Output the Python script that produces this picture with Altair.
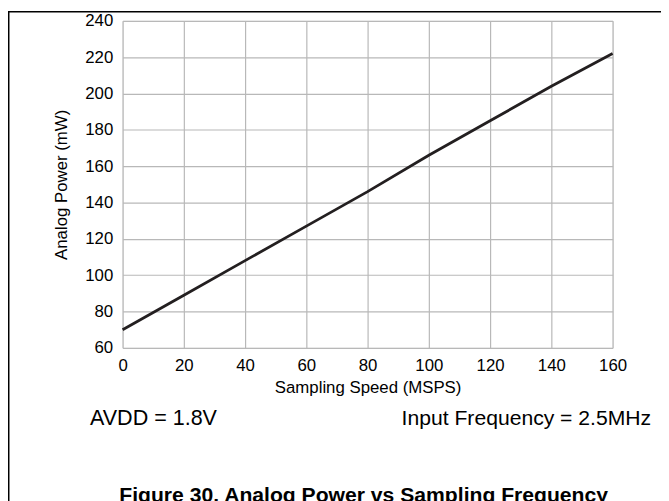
import altair as alt
import pandas as pd

speed = [0, 20, 40, 60, 80, 100, 120, 140, 160]
power = [70, 89, 108, 127, 146, 166, 185, 204, 222]
x_ticks = [0, 20, 40, 60, 80, 100, 120, 140, 160]
y_ticks = [60, 80, 100, 120, 140, 160, 180, 200, 220, 240]

df = pd.DataFrame({"speed": speed, "power": power})

FONT = "Liberation Sans"
LEFT = 124
RIGHT = 620
TOP = 18
BOTTOM = 349
PLOT_W = RIGHT - LEFT
PLOT_H = BOTTOM - TOP
PAD_L = LEFT - 8
PAD_T = TOP - 8

x_enc = alt.X("speed:Q", scale=alt.Scale(domain=[0, 160], nice=False, zero=False),
              axis=alt.Axis(values=x_ticks, title="Sampling Speed (MSPS)", grid=True,
                            tickSize=0, labelPadding=10, titlePadding=6, labelFlush=False,
                            labelFontSize=17, titleFontSize=17, labelFont=FONT,
                            titleFont=FONT, titleFontWeight="normal", labelColor="#000",
                            titleColor="#000", domain=False, gridColor="#b8b8b8",
                            gridWidth=1.2))
y_enc = alt.Y("power:Q", scale=alt.Scale(domain=[60, 240], nice=False, zero=False),
              axis=alt.Axis(values=y_ticks, title="Analog Power (mW)", grid=True,
                            tickSize=0, labelPadding=10, titlePadding=14, labelFlush=False,
                            labelFontSize=17, titleFontSize=17, labelFont=FONT,
                            titleFont=FONT, titleFontWeight="normal", labelColor="#000",
                            titleColor="#000", domain=False, gridColor="#b8b8b8",
                            gridWidth=1.2))

line = alt.Chart(df).mark_line(color="#231f20", strokeWidth=2.8).encode(x=x_enc, y=y_enc)

note_left = alt.Chart(pd.DataFrame({"t": ["AVDD = 1.8V"]})).mark_text(
    align="left", baseline="alphabetic", fontSize=21.8, font=FONT, color="#000"
).encode(text="t:N", x=alt.value(91 - LEFT), y=alt.value(427 - TOP))

note_right = alt.Chart(pd.DataFrame({"t": ["Input Frequency = 2.5MHz"]})).mark_text(
    align="right", baseline="alphabetic", fontSize=21.4, font=FONT, color="#000"
).encode(text="t:N", x=alt.value(659 - LEFT), y=alt.value(427 - TOP))

fig_title = alt.Chart(pd.DataFrame({"t": ["Figure 30. Analog Power vs Sampling Frequency"]})).mark_text(
    align="center", baseline="top", fontSize=21.4, font=FONT, fontWeight="bold", color="#000"
).encode(text="t:N", x=alt.value(368 - LEFT), y=alt.value(488 - TOP))

frame_left = alt.Chart(pd.DataFrame({"a": [0]})).mark_rule(color="#000", strokeWidth=1.5).encode(
    x=alt.value(-PAD_L + 0.75), y=alt.value(-PAD_T), y2=alt.value(600))
frame_top = alt.Chart(pd.DataFrame({"a": [0]})).mark_rule(color="#000", strokeWidth=1.5).encode(
    y=alt.value(-PAD_T + 0.75), x=alt.value(-PAD_L), x2=alt.value(700))

chart = alt.layer(line, note_left, note_right, fig_title, frame_left, frame_top).properties(
    width=PLOT_W, height=PLOT_H,
    autosize=alt.AutoSizeParams(type="none"),
    padding={"left": PAD_L, "top": PAD_T, "right": 661 - PAD_L - PLOT_W, "bottom": 493 - PAD_T - PLOT_H},
).configure_view(stroke="#000", strokeWidth=2.2).configure(background="white")

chart.save("out.html", embed_options={"renderer": "svg", "actions": False})
